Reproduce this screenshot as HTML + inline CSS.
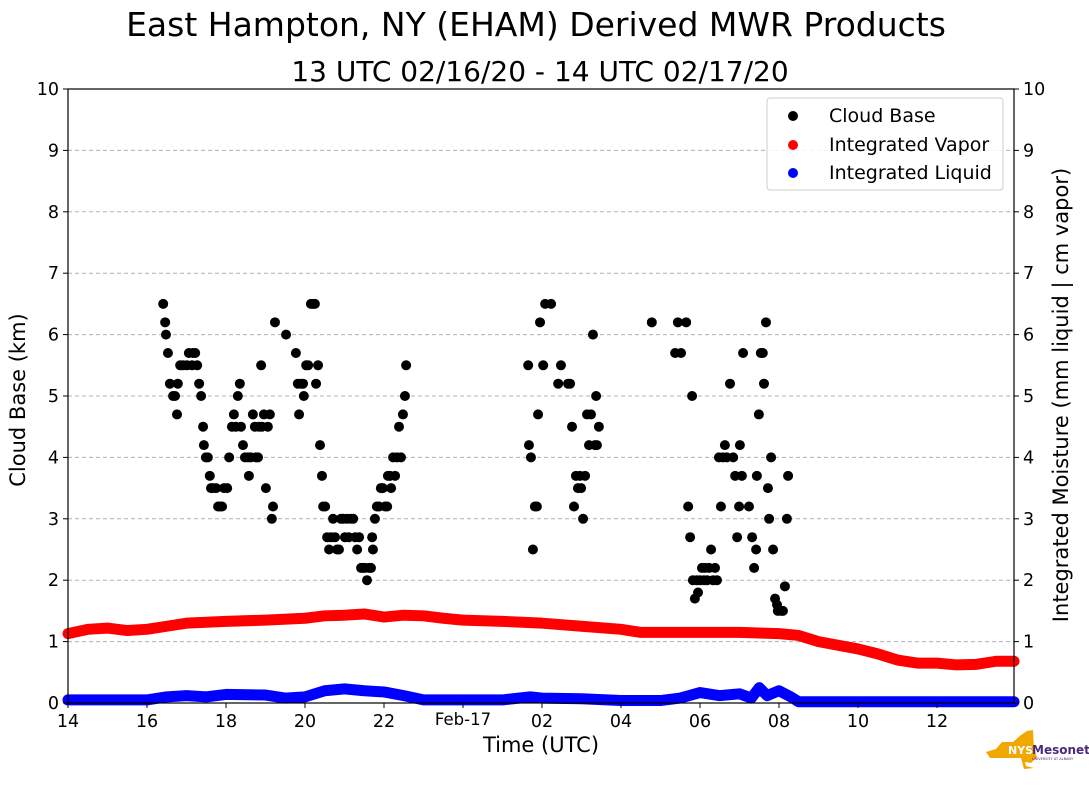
<!DOCTYPE html>
<html><head><meta charset="utf-8">
<style>
body{margin:0;background:#fff;width:1089px;height:804px;overflow:hidden;font-family:"Liberation Sans",sans-serif;}
svg{display:block}
text{font-family:"DejaVu Sans","Liberation Sans",sans-serif;}
</style></head>
<body>
<svg id="chart" width="1089" height="804" viewBox="0 0 1089 804" xmlns="http://www.w3.org/2000/svg">
<text x="536" y="36" font-size="33" text-anchor="middle">East Hampton, NY (EHAM) Derived MWR Products</text>
<text x="540" y="81" font-size="28" text-anchor="middle">13 UTC 02/16/20 - 14 UTC 02/17/20</text>
<g id="grid"></g>
<g id="series"></g>
<rect x="68" y="89" width="946" height="614" fill="none" stroke="#000" stroke-width="1.2"/>
<g id="axes"></g>
<text x="541" y="752" font-size="21" text-anchor="middle">Time (UTC)</text>
<text transform="translate(25,400) rotate(-90)" font-size="21" text-anchor="middle">Cloud Base (km)</text>
<text transform="translate(1068,395) rotate(-90)" font-size="21" text-anchor="middle">Integrated Moisture (mm liquid | cm vapor)</text>
<g>
<rect x="767" y="98" width="236" height="92" rx="3" fill="#fff" fill-opacity="0.85" stroke="#ccc"/>
<circle cx="793" cy="116" r="5" fill="#000"/><text x="829" y="122" font-size="19">Cloud Base</text>
<circle cx="793" cy="145" r="5" fill="red"/><text x="829" y="151" font-size="19">Integrated Vapor</text>
<circle cx="793" cy="173" r="5" fill="blue"/><text x="829" y="179" font-size="19">Integrated Liquid</text>
</g>
<g>
<path d="M1002 742 L1013 742 L1021 735 L1027 731 L1033 730 L1034 750 L1037 757 L1031 763 L1025 762 L1026 766 L1034 768 L1024 769 L1021 758 L990 758 L986 752 L996 749 Z" fill="#f0a800"/>
<text x="1008" y="754" font-size="11" font-weight="bold" fill="#fff" font-family="Liberation Sans">NYS</text>
<text x="1032" y="754" font-size="12" font-weight="bold" fill="#4b2a7b" font-family="Liberation Sans">Mesonet</text>
<text x="1032" y="760" font-size="3.5" fill="#4b2a7b" font-family="Liberation Sans">UNIVERSITY AT ALBANY</text>
</g>
</svg>
<script>
const cbTime=[16.41,16.46,16.48,16.53,16.58,16.66,16.71,16.76,16.78,16.84,16.91,17.01,17.06,17.14,17.16,17.22,17.27,17.32,17.37,17.42,17.44,17.49,17.54,17.59,17.62,17.67,17.75,17.80,17.85,17.90,17.95,18.03,18.08,18.15,18.20,18.25,18.30,18.35,18.38,18.43,18.48,18.56,18.58,18.63,18.68,18.73,18.76,18.81,18.84,18.89,18.91,18.96,19.01,19.06,19.11,19.16,19.19,19.24,19.52,19.77,19.82,19.85,19.90,19.95,19.97,20.03,20.08,20.15,20.20,20.25,20.28,20.33,20.38,20.43,20.46,20.51,20.56,20.61,20.66,20.71,20.76,20.81,20.86,20.91,20.96,21.01,21.06,21.11,21.16,21.22,21.27,21.32,21.37,21.42,21.47,21.52,21.57,21.62,21.67,21.70,21.72,21.77,21.82,21.87,21.92,21.97,22.03,22.08,22.10,22.15,22.18,22.23,22.28,22.33,22.38,22.43,22.48,22.53,22.56,
25.65,25.67,25.72,25.77,25.82,25.87,25.90,25.95,26.03,26.08,26.23,26.41,26.48,26.66,26.71,26.76,26.81,26.86,26.91,26.96,26.99,27.04,27.09,27.14,27.19,27.24,27.29,27.34,27.37,27.39,27.44,
28.78,29.37,29.44,29.52,29.65,29.70,29.75,29.80,29.82,29.87,29.92,29.95,30.00,30.05,30.10,30.13,30.18,30.23,30.28,30.33,30.38,30.43,30.48,30.53,30.58,30.63,30.68,30.76,30.84,30.89,30.94,30.99,31.01,31.06,31.09,31.24,31.32,31.37,31.42,31.44,31.49,31.54,31.59,31.62,31.67,31.72,31.75,31.80,31.85,31.90,31.95,31.97,32.05,32.10,32.15,32.20,32.23];
const cbKm=[6.5,6.2,6.0,5.7,5.2,5.0,5.0,4.7,5.2,5.5,5.5,5.5,5.7,5.5,5.7,5.7,5.5,5.2,5.0,4.5,4.2,4.0,4.0,3.7,3.5,3.5,3.5,3.2,3.2,3.2,3.5,3.5,4.0,4.5,4.7,4.5,5.0,5.2,4.5,4.2,4.0,4.0,3.7,4.0,4.7,4.5,4.0,4.0,4.5,5.5,4.5,4.7,3.5,4.5,4.7,3.0,3.2,6.2,6.0,5.7,5.2,4.7,5.2,5.2,5.0,5.5,5.5,6.5,6.5,6.5,5.2,5.5,4.2,3.7,3.2,3.2,2.7,2.5,2.7,3.0,2.7,2.5,2.5,3.0,3.0,2.7,3.0,2.7,3.0,3.0,2.7,2.5,2.7,2.2,2.2,2.2,2.0,2.2,2.2,2.7,2.5,3.0,3.2,3.2,3.5,3.5,3.2,3.2,3.7,3.7,3.5,4.0,3.7,4.0,4.5,4.0,4.7,5.0,5.5,
5.5,4.2,4.0,2.5,3.2,3.2,4.7,6.2,5.5,6.5,6.5,5.2,5.5,5.2,5.2,4.5,3.2,3.7,3.5,3.7,3.5,3.0,3.7,4.7,4.2,4.7,6.0,4.2,5.0,4.2,4.5,
6.2,5.7,6.2,5.7,6.2,3.2,2.7,5.0,2.0,1.7,2.0,1.8,2.0,2.2,2.0,2.2,2.0,2.2,2.5,2.0,2.2,2.0,4.0,3.2,4.0,4.2,4.0,5.2,4.0,3.7,2.7,3.2,4.2,3.7,5.7,3.2,2.7,2.2,2.5,3.7,4.7,5.7,5.7,5.2,6.2,3.5,3.0,4.0,2.5,1.7,1.6,1.5,1.5,1.5,1.9,3.0,3.7];
const vapTime=[14,14.5,15,15.5,16,16.5,17,18,19,20,20.5,21,21.5,22,22.5,23,23.5,24,25,26,27,28,28.5,29,30,31,32,32.5,33,34,34.5,35,35.5,36,36.5,37,37.5,37.95];
const vapVal=[1.13,1.2,1.22,1.18,1.2,1.25,1.3,1.33,1.35,1.38,1.42,1.43,1.45,1.4,1.43,1.42,1.38,1.35,1.33,1.3,1.25,1.2,1.15,1.15,1.15,1.15,1.13,1.1,1.0,0.88,0.8,0.7,0.65,0.65,0.62,0.63,0.68,0.68];
const liqTime=[14,15,16,16.5,17,17.5,18,19,19.5,20,20.5,21,21.5,22,22.5,23,25,25.7,26,27,28,29,29.5,30,30.5,31,31.3,31.5,31.7,32,32.3,32.5,37.95];
const liqVal=[0.05,0.05,0.05,0.1,0.12,0.1,0.14,0.13,0.08,0.1,0.2,0.23,0.2,0.18,0.12,0.05,0.05,0.1,0.08,0.07,0.04,0.04,0.08,0.17,0.12,0.15,0.08,0.25,0.12,0.2,0.1,0.02,0.02];
const xTickVals=[14,16,18,20,22,24,26,28,30,32,34,36];
const xTickLabels=["14","16","18","20","22","Feb-17","02","04","06","08","10","12"];
const yTickVals=[0,1,2,3,4,5,6,7,8,9,10];

const NS="http://www.w3.org/2000/svg";
const X0=68,X1=1014,Y0=703,Y1=89,T0=14,T1=14+946/39.5;
const xs=t=>X0+(t-T0)/(T1-T0)*(X1-X0);
const ys=v=>Y0-v/10*(Y0-Y1);
function mk(tag,attrs,parent){const e=document.createElementNS(NS,tag);for(const k in attrs)e.setAttribute(k,attrs[k]);parent.appendChild(e);return e;}
const grid=document.getElementById('grid'),axes=document.getElementById('axes'),ser=document.getElementById('series');
yTickVals.forEach(v=>{
  if(v>0&&v<10){const g=mk('line',{x1:X0,x2:X1,y1:ys(v),y2:ys(v),stroke:'#b0b0b0','stroke-dasharray':'4,3','stroke-width':1},grid);
  
  }
  mk('line',{x1:X0-5,x2:X0,y1:ys(v),y2:ys(v),stroke:'#000'},axes);
  mk('line',{x1:X1,x2:X1+5,y1:ys(v),y2:ys(v),stroke:'#000'},axes);
  const l=mk('text',{x:X0-9,y:ys(v)+6,'font-size':17.5,'text-anchor':'end'},axes);l.textContent=v;
  
  
  const r=mk('text',{x:X1+9,y:ys(v)+6,'font-size':17.5},axes);r.textContent=v;
  
  
});
xTickVals.forEach((t,i)=>{
  mk('line',{x1:xs(t),x2:xs(t),y1:Y0,y2:Y0+5,stroke:'#000'},axes);
  const l=mk('text',{x:xs(t),y:Y0+(i==5?22:24),'font-size':i==5?16.5:17.5,'text-anchor':'middle'},axes);l.textContent=xTickLabels[i];
  
  
});
function band(tv,vv,color,name){
  const p=mk('polyline',{points:tv.map((t,i)=>xs(t)+','+ys(vv[i])).join(' '),fill:'none',stroke:color,'stroke-width':11,'stroke-linejoin':'round','stroke-linecap':'round'},ser);
  
  
}
band(vapTime,vapVal,'red','integrated-vapor-series');
band(liqTime,liqVal,'blue','integrated-liquid-series');
cbTime.forEach((t,i)=>{
  const c=mk('circle',{cx:xs(t),cy:ys(cbKm[i]),r:5,fill:'#000'},ser);
  
  
});
</script>
</body></html>
